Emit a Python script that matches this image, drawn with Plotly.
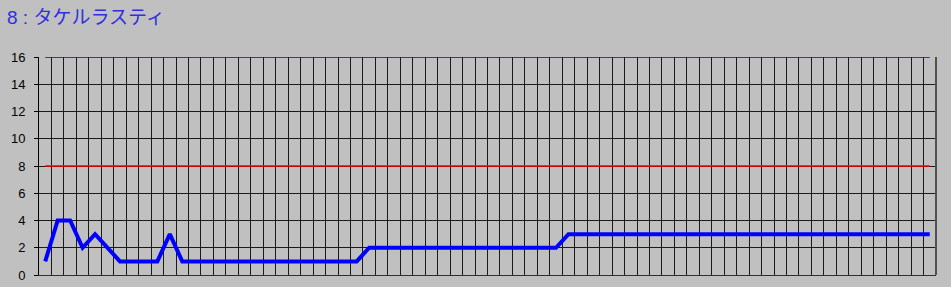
import plotly.graph_objects as go

# Data
categories = list(range(72))
values = [1, 4, 4, 2, 3, 2, 1, 1, 1, 1, 3, 1,
          1, 1, 1, 1, 1, 1, 1, 1, 1, 1, 1, 1, 1, 1,
          2, 2, 2, 2, 2, 2, 2, 2, 2, 2, 2, 2, 2, 2, 2, 2,
          3, 3, 3, 3, 3, 3, 3, 3, 3, 3, 3, 3, 3, 3, 3, 3, 3, 3, 3, 3,
          3, 3, 3, 3, 3, 3, 3, 3, 3, 3]
lower_limit = [8] * len(categories)
upper_limit = [16] * len(categories)
y_ticks = [0, 2, 4, 6, 8, 10, 12, 14, 16]
title_text = "8\u00a0:\u00a0タケルラスティ"

BG = "#C0C0C0"

fig = go.Figure()
fig.add_trace(go.Scatter(x=categories, y=lower_limit, mode="lines",
                         line=dict(color="#FF0000", width=1.4), hoverinfo="skip"))
fig.add_trace(go.Scatter(x=categories, y=upper_limit, mode="lines",
                         line=dict(color="#0000FF", width=1.6), hoverinfo="skip", cliponaxis=False))
fig.add_trace(go.Scatter(x=categories, y=values, mode="lines",
                         line=dict(color="#0000FF", width=4), cliponaxis=False))

grid_vals = [c - 0.5 for c in categories] + [categories[-1] + 0.5]

fig.update_layout(
    width=951, height=287,
    margin=dict(l=39, r=15, t=57, b=12, autoexpand=False),
    paper_bgcolor=BG, plot_bgcolor=BG,
    showlegend=False,
    title=dict(text=title_text, x=7 / 951, xanchor="left", xref="container",
               y=1 - 17 / 287, yanchor="middle", yref="container",
               font=dict(family="Liberation Sans, Noto Sans CJK JP, sans-serif", size=19, color="#3030E0")),
    font=dict(family="Liberation Sans, Arial, sans-serif", size=13, color="#000000"),
)
fig.update_xaxes(range=[-0.5, categories[-1] + 0.5], tickmode="array", tickvals=grid_vals,
                 showticklabels=False, showgrid=True, gridcolor="#1A1A1A", gridwidth=1,
                 zeroline=False, showline=True, linecolor="#303030", linewidth=1,
                 ticks="", fixedrange=True, automargin=False)
fig.update_yaxes(range=[0, 16], tickmode="array", tickvals=y_ticks,
                 showgrid=True, gridcolor="#1A1A1A", gridwidth=1, zeroline=False,
                 showline=True, linecolor="#000000", linewidth=1,
                 ticks="outside", ticklen=4, tickcolor="#000000", ticklabelstandoff=6,
                 fixedrange=True, automargin=False)
fig.add_shape(type="line", xref="paper", yref="paper", x0=1, x1=1, y0=0, y1=1,
              line=dict(color="#505050", width=2))

fig.write_html("out.html")
